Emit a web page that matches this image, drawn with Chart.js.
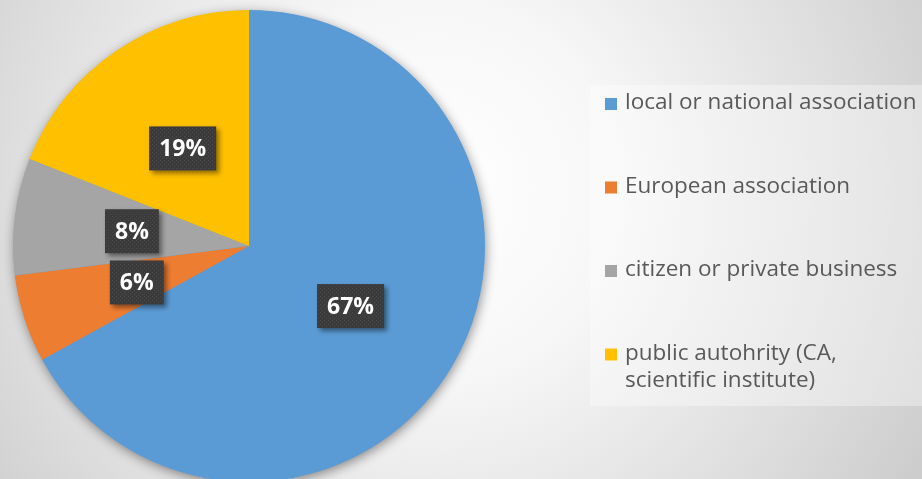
<!DOCTYPE html>
<html>
<head>
<meta charset="utf-8">
<script src="https://cdn.jsdelivr.net/npm/chart.js@4/dist/chart.umd.min.js"></script>
<style>
  html, body { margin: 0; padding: 0; overflow: hidden; }
  #wrap { width: 922px; height: 490px; position: relative; }
</style>
</head>
<body>
<div id="wrap"><canvas id="pie"></canvas></div>
<script>
const categories = [
  "local or national association",
  "European association",
  "citizen or private business",
  ["public autohrity (CA,", "scientific institute)"]
];
const shares = [67, 6, 8, 19];
const sliceColors = ["#5b9bd5", "#ed7d31", "#a5a5a5", "#ffc000"];

// dotted dark texture for the value boxes
const makeDots = () => {
  const c = document.createElement("canvas");
  c.width = 4;
  c.height = 4;
  const g = c.getContext("2d");
  g.fillStyle = "#3b3b3b";
  g.fillRect(0, 0, 4, 4);
  g.fillStyle = "#4a4a4a";
  g.fillRect(0, 0, 1, 1);
  g.fillRect(2, 2, 1, 1);
  return c;
};

const backdrop = {
  id: "backdrop",
  beforeDraw(chart) {
    const { ctx, width, height } = chart;
    const grad = ctx.createRadialGradient(430, 190, 0, 430, 190, 620);
    grad.addColorStop(0, "#ffffff");
    grad.addColorStop(0.3, "#f7f7f7");
    grad.addColorStop(0.7, "#dcdcdc");
    grad.addColorStop(1, "#c6c6c6");
    ctx.save();
    ctx.fillStyle = grad;
    ctx.fillRect(0, 0, width, height);
    ctx.restore();
  },
  beforeDatasetsDraw(chart) {
    const arc = chart.getDatasetMeta(0).data[0];
    if (!arc) return;
    const { ctx } = chart;
    ctx.save();
    ctx.shadowColor = "rgba(0,0,0,0.45)";
    ctx.shadowBlur = 12;
    ctx.shadowOffsetX = 1;
    ctx.shadowOffsetY = 3;
    ctx.fillStyle = sliceColors[0];
    ctx.beginPath();
    ctx.arc(arc.x, arc.y, arc.outerRadius - 0.5, 0, Math.PI * 2);
    ctx.fill();
    ctx.restore();
  }
};

const valueBoxes = {
  id: "valueBoxes",
  afterDatasetsDraw(chart) {
    const { ctx } = chart;
    const pattern = ctx.createPattern(makeDots(), "repeat");
    ctx.save();
    ctx.font = "bold 23px 'Open Sans'";
    ctx.textAlign = "center";
    ctx.textBaseline = "middle";
    chart.getDatasetMeta(0).data.forEach((arc, i) => {
      const p = arc.tooltipPosition();
      const text = shares[i] + "%";
      const w = ctx.measureText(text).width + 20;
      const h = 44;
      ctx.save();
      ctx.shadowColor = "rgba(0,0,0,0.45)";
      ctx.shadowBlur = 5;
      ctx.shadowOffsetX = 3;
      ctx.shadowOffsetY = 3;
      ctx.fillStyle = pattern;
      ctx.fillRect(p.x - w / 2, p.y - h / 2, w, h);
      ctx.restore();
      ctx.fillStyle = "#ffffff";
      ctx.fillText(text, p.x, p.y + 1);
    });
    ctx.restore();
  }
};

const sideLegend = {
  id: "sideLegend",
  afterDraw(chart) {
    const { ctx } = chart;
    ctx.save();
    ctx.fillStyle = "rgba(255,255,255,0.35)";
    ctx.fillRect(590, 85, 332, 321);
    ctx.font = "22.5px 'Open Sans'";
    ctx.textBaseline = "middle";
    ctx.textAlign = "left";
    chart.data.labels.forEach((label, i) => {
      const y = 103 + i * 83.5;
      ctx.fillStyle = sliceColors[i];
      ctx.fillRect(605, y - 5, 12, 12);
      ctx.fillStyle = "#595959";
      const lines = Array.isArray(label) ? label : [label];
      lines.forEach((line, j) => ctx.fillText(line, 625, y + j * 27));
    });
    ctx.restore();
  }
};

new Chart(document.getElementById("pie").getContext("2d"), {
  type: "pie",
  data: {
    labels: categories,
    datasets: [
      {
        data: shares,
        backgroundColor: sliceColors,
        borderWidth: 0
      }
    ]
  },
  options: {
    responsive: true,
    maintainAspectRatio: false,
    animation: false,
    layout: { padding: { left: 13, top: 10, right: 437, bottom: 8 } },
    plugins: {
      legend: { display: false },
      tooltip: { enabled: false }
    }
  },
  plugins: [backdrop, valueBoxes, sideLegend]
});
</script>
</body>
</html>
